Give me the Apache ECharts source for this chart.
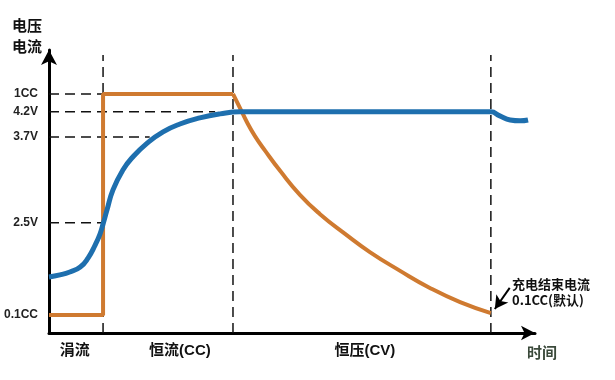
<!DOCTYPE html>
<html><head><meta charset="utf-8">
<script src="https://cdn.jsdelivr.net/npm/echarts@6/dist/echarts.min.js"></script>
<style>html,body{margin:0;padding:0;background:#fff}#c{width:615px;height:380px}</style>
</head><body><div id="c"></div>
<script>
// ---- data (time units 0..98, level units 0..97.9) ----
const yTickValues = [6.2, 38.1, 67.8, 76.5, 82.7];
const yTickLabels = ['0.1CC', '2.5V', '3.7V', '4.2V', '1CC'];
const guideEndX = [null, 10.9, 20.3, 33.5, 10.9]; // where each horizontal dashed guide stops
const phaseCenters = [5.2, 26.4, 63.7];
const phaseLabels = ['涓流', '恒流(CC)', '恒压(CV)'];
const phaseBounds = [10.9, 37.1, 89.1];
const phaseTop = 96.2;

const currentStepX = [0, 10.9, 10.9, 37.1];
const currentStepY = [6.2, 6.2, 82.7, 82.7];
const currentDecayX = [37.1, 38.5, 39.9, 41.5, 43.6, 46.6, 50.6, 54.6, 59.7, 64.7, 70.8, 76.8, 82.9, 89.1];
const currentDecayY = [82.7, 77.9, 73.0, 68.2, 63.0, 56.1, 47.8, 41.2, 34.3, 28.0, 21.5, 15.6, 10.7, 6.9];
const voltageX = [0, 2.2, 4.2, 6.3, 7.9, 9.3, 10.3, 10.9, 11.7, 12.9, 14.9, 16.9, 19.8, 23.0, 26.4, 30.4, 34.5, 38.5, 42.0, 87.0, 89.1, 90.9, 93.0, 95.0, 96.6];
const voltageY = [19.4, 20.1, 21.1, 22.8, 26.0, 30.4, 34.3, 37.7, 42.6, 49.5, 56.4, 60.9, 65.7, 69.6, 72.3, 74.4, 75.8, 76.5, 76.5, 76.5, 76.5, 75.1, 73.7, 73.4, 73.7];
const endArrowFrom = [92.9, 15.6];
const endArrowTo = [89.9, 8.3];
const endNote = '充电结束电流\n0.1CC(默认)';
const yName = '电压\n电流';
const xName = '时间';

const zip = (xs, ys) => xs.map((x, i) => [x, ys[i]]);
const ORANGE = '#CF7A30', BLUE = '#1E6FAE';
const FF = '"Liberation Sans", Arial, "Noto Sans CJK SC", sans-serif';

const dashStyle = { color: '#111', width: 1.5, type: [10, 6] };
const guideSeries = [];
yTickValues.forEach((v, i) => {
  if (guideEndX[i] == null) return;
  guideSeries.push({ type: 'line', symbol: 'none', silent: true, z: 1,
    lineStyle: dashStyle, data: [[0, v], [guideEndX[i], v]] });
});
phaseBounds.forEach(b => {
  guideSeries.push({ type: 'line', symbol: 'none', silent: true, z: 1,
    lineStyle: dashStyle, data: [[b, 0], [b, phaseTop]] });
});

const chart = echarts.init(document.getElementById('c'));
chart.setOption({
  animation: false,
  backgroundColor: '#fff',
  grid: { left: 49, right: 80, top: 50, bottom: 47 },
  xAxis: {
    type: 'value', min: 0, max: 98,
    axisLine: { show: true, symbol: ['none', 'arrow'], symbolSize: [11, 14], lineStyle: { color: '#000', width: 3 } },
    axisTick: { show: false }, splitLine: { show: false },
    axisLabel: {
      customValues: phaseCenters, margin: 10,
      formatter: (v) => phaseLabels[phaseCenters.findIndex(c => Math.abs(c - v) < 1e-6)] || '',
      color: '#111', fontSize: 15, fontWeight: 'bold', fontFamily: FF
    }
  },
  yAxis: {
    type: 'value', min: 0, max: 97.9,
    axisLine: { show: true, symbol: ['none', 'arrow'], symbolSize: [12, 15], lineStyle: { color: '#000', width: 3 } },
    axisTick: { show: false }, splitLine: { show: false },
    axisLabel: {
      customValues: yTickValues, margin: 11,
      formatter: (v) => yTickLabels[yTickValues.findIndex(c => Math.abs(c - v) < 1e-6)] || '',
      color: '#222', fontSize: 12, fontWeight: 'bold', fontFamily: FF
    }
  },
  series: guideSeries.concat([
    { type: 'line', symbol: 'none', z: 3, lineStyle: { color: ORANGE, width: 4 }, data: zip(currentStepX, currentStepY) },
    { type: 'line', symbol: 'none', z: 3, smooth: 0.5, lineStyle: { color: ORANGE, width: 4 }, data: zip(currentDecayX, currentDecayY),
      markLine: { silent: true, symbol: ['none', 'arrow'], symbolSize: [11, 13],
        lineStyle: { color: '#000', width: 2, type: 'solid' }, label: { show: false },
        data: [[{ coord: endArrowFrom }, { coord: endArrowTo }]] } },
    { type: 'line', symbol: 'none', z: 4, smooth: 0.5, lineStyle: { color: BLUE, width: 5 }, data: zip(voltageX, voltageY) }
  ]),
  graphic: [
    { type: 'text', left: 12, top: 15, style: { text: yName, fill: '#111', font: 'bold 15px "Noto Sans CJK SC"', lineHeight: 21 } },
    { type: 'text', left: 527, top: 345, style: { text: xName, fill: '#3b4a3b', font: 'bold 15px "Noto Sans CJK SC"' } },
    { type: 'text', left: 512, top: 276, style: { text: endNote, fill: '#111', font: 'bold 13px "Noto Sans CJK SC"', lineHeight: 16, align: 'center', x: 39 } }
  ]
});
</script></body></html>
